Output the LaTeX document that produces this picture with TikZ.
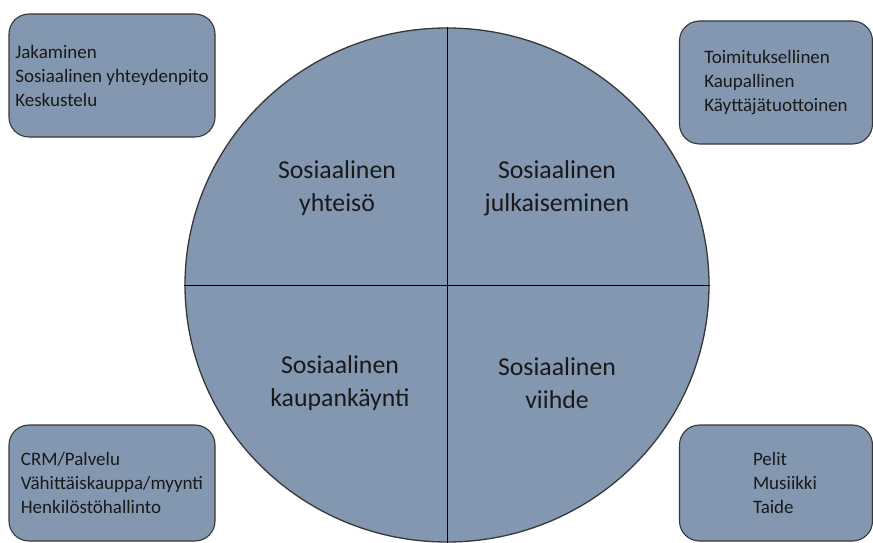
\documentclass[tikz,border=0pt]{standalone}
\usepackage{fontspec}
\setmainfont{Carlito}
\usepackage{tikz}
\usetikzlibrary{positioning,shapes.geometric}
\usepackage{xcolor}
\definecolor{slateblue}{RGB}{132,151,176}
\definecolor{edgegray}{RGB}{55,55,55}
\definecolor{textgray}{RGB}{25,25,25}
\newcommand{\boxfont}{\fontsize{19}{24}\selectfont}
\newcommand{\quadfont}{\fontsize{25.8}{33}\selectfont}
\tikzset{
  sidebox/.style={rectangle, rounded corners=20pt, draw=edgegray, line width=1.1pt, fill=slateblue,
                  align=left, font=\boxfont, text=textgray, inner sep=0pt},
  widebox/.style={sidebox, minimum width=206pt},
  edgebox/.style={sidebox, minimum width=193pt},
  disk/.style={ellipse, draw=edgegray, line width=1.3pt, fill=slateblue, inner sep=0pt,
               minimum width=524pt, minimum height=514pt},
  quadlabel/.style={align=center, font=\quadfont, text=textgray, inner sep=0pt},
  divider/.style={line width=1pt, black},
}
\begin{document}
\begin{tikzpicture}[x=1pt, y=-1pt]
\useasboundingbox (0,0) rectangle (873,543);

\node[disk] (wheel) at (447,285) {};
\draw[divider] (wheel.north) -- (wheel.south);
\draw[divider] (wheel.west) -- (wheel.east);

\node[quadlabel] (yht) at (337,188) {Sosiaalinen\\yhteisö};
\node[quadlabel] (julk) at (557,188) {Sosiaalinen\\julkaiseminen};
\node[quadlabel] (kaup) at (340,383) {Sosiaalinen\\kaupankäynti};
\node[quadlabel] (viih) at (557,383) {Sosiaalinen\\viihde};

\node[widebox, minimum height=123pt] (jak) at (112,75.5) {Jakaminen\\Sosiaalinen yhteydenpito\\Keskustelu};
\node[edgebox, minimum height=123pt] (toim) at (776,82.5) {Toimituksellinen\\Kaupallinen\\Käyttäjätuottoinen};
\node[widebox, minimum height=116pt] (crm) at (112,483) {CRM/Palvelu\\Vähittäiskauppa/myynti\\Henkilöstöhallinto};
\node[edgebox, minimum height=116pt] (pel) at (776,483) {\hspace*{18pt}Pelit\\\hspace*{18pt}Musiikki\\\hspace*{18pt}Taide};
\end{tikzpicture}
\end{document}
